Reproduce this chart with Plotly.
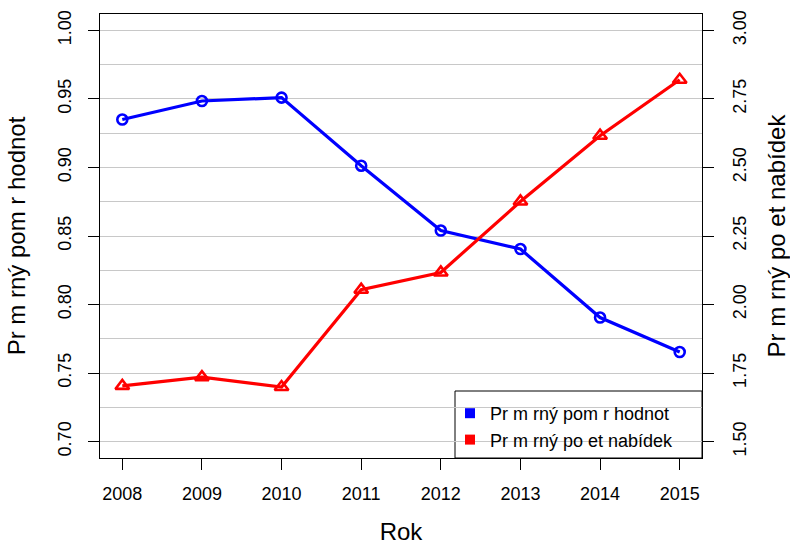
import plotly.graph_objects as go

years = [2008, 2009, 2010, 2011, 2012, 2013, 2014, 2015]
ratio_values = [0.935, 0.9485, 0.951, 0.9013, 0.854, 0.8405, 0.7905, 0.7653]
offers_values = [1.703, 1.735, 1.699, 2.054, 2.117, 2.376, 2.616, 2.820]

left_title = "Pr m rný pom r hodnot"
right_title = "Pr m rný po et nabídek"
x_title = "Rok"

left_ticks = [0.70, 0.75, 0.80, 0.85, 0.90, 0.95, 1.00]
right_ticks = [1.50, 1.75, 2.00, 2.25, 2.50, 2.75, 3.00]

FONT = "Liberation Sans, Arial, Helvetica, sans-serif"
BLUE = "#0000FF"
RED = "#FF0000"

fig = go.Figure()

fig.add_trace(go.Scatter(
    x=years, y=ratio_values, mode="lines+markers",
    line=dict(color=BLUE, width=3.2),
    marker=dict(symbol="circle-open", size=10, color=BLUE, line=dict(width=2.6, color=BLUE)),
    showlegend=False, yaxis="y", cliponaxis=False,
))
fig.add_trace(go.Scatter(
    x=years, y=offers_values, mode="lines+markers",
    line=dict(color=RED, width=3.2),
    marker=dict(symbol="triangle-up-open", size=12, color=RED, line=dict(width=2.6, color=RED)),
    showlegend=False, yaxis="y2", cliponaxis=False,
))

# legend entries
fig.add_trace(go.Scatter(x=[None], y=[None], mode="markers", name=left_title,
                         marker=dict(symbol="square", size=10, color=BLUE)))
fig.add_trace(go.Scatter(x=[None], y=[None], mode="markers", name=right_title,
                         marker=dict(symbol="square", size=10, color=RED)))

W, H = 790, 545
L, T = 100, 14
R = 790 - 702
B = 545 - 458
pw = W - L - R
ph = H - T - B

def py(yw):
    return (ph - (yw - T)) / ph

def px(xw):
    return (xw - L) / pw

fig.update_layout(
    width=W, height=H,
    margin=dict(l=L, r=R, t=T, b=B, autoexpand=False),
    paper_bgcolor="white", plot_bgcolor="white",
    font=dict(family=FONT, color="black", size=18),
    xaxis=dict(
        range=[2007.72, 2015.28], tickvals=years, ticktext=[str(y) for y in years],
        showgrid=False, zeroline=False,
        showline=True, linecolor="black", linewidth=1, mirror=True,
        ticks="outside", ticklen=11, tickcolor="black", tickwidth=1,
        tickfont=dict(size=18), ticklabelstandoff=8,
        title=dict(text=x_title, font=dict(size=24), standoff=23),
    ),
    yaxis=dict(
        range=[0.688, 1.012], tickvals=left_ticks, tickformat=".2f",
        tickangle=-90, tickfont=dict(size=18), ticklabelstandoff=10,
        showgrid=True, gridcolor="#c8c8c8", gridwidth=1,
        minor=dict(dtick=0.025, tick0=0.7, showgrid=True, gridcolor="#c8c8c8", gridwidth=1, ticks=""),
        zeroline=False,
        showline=True, linecolor="black", linewidth=1,
        ticks="outside", ticklen=11, tickcolor="black", tickwidth=1,
        title=dict(text=left_title, font=dict(size=24), standoff=22),
    ),
    yaxis2=dict(
        range=[1.44, 3.06], tickvals=right_ticks, tickformat=".2f",
        overlaying="y", side="right",
        tickangle=-90, tickfont=dict(size=18), ticklabelstandoff=10,
        showgrid=False, zeroline=False,
        showline=True, linecolor="black", linewidth=1,
        ticks="outside", ticklen=11, tickcolor="black", tickwidth=1,
        title=dict(text=right_title, font=dict(size=24), standoff=20),
    ),
    legend=dict(
        x=px(450), xanchor="left",
        y=py(395), yanchor="top",
        bgcolor="rgba(0,0,0,0)", borderwidth=0,
        font=dict(size=18, family=FONT),
    ),
    shapes=[dict(
        type="rect", xref="paper", yref="paper",
        x0=px(455), x1=1, y0=0, y1=py(391),
        line=dict(color="black", width=1), fillcolor="white", layer="between",
    )],
)

fig.write_html(
    "out.html",
    config={"displayModeBar": False},
    post_script="document.body.style.margin='0';document.body.style.overflow='hidden';",
)
